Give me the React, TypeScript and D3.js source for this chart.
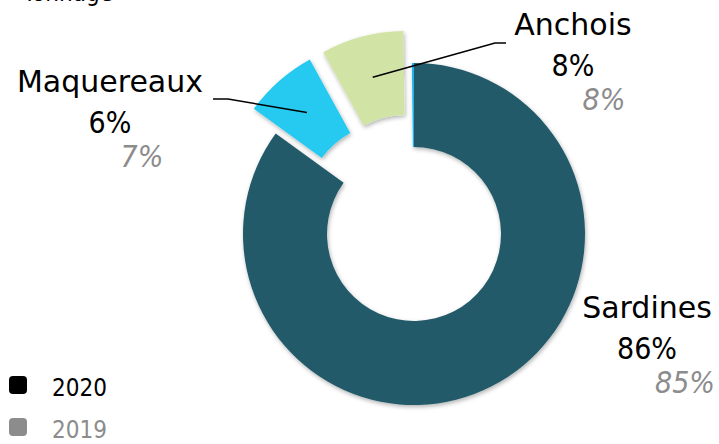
import * as d3 from "d3";

// clockwise from 12 o'clock
const categories = ["Sardines", "Maquereaux", "Anchois", "Autres"];
const shares = [85.0, 7.0, 7.8, 0.2]; // slice sizes
const pct2020 = [86, 6, 8];
const pct2019 = [85, 7, 8];
const legendYears = ["2020", "2019"];

const W = 719;
const H = 444;
const cx = 414;
const cy = 234;
const outerR = 171;
const innerR = 87;

const colors: Record<string, string> = {
  Sardines: "#215a69",
  Maquereaux: "#27c9ef",
  Anchois: "#d2e3a6",
  Autres: "#1fb4ea",
};
const explode: Record<string, number> = { Maquereaux: 33, Anchois: 33 };

// label layout (centre x, baseline of name line) and leader line start
const labelPos: Record<string, { x: number; y: number; dx2019: number; line?: [number, number][] }> = {
  Sardines: { x: 647, y: 318, dx2019: 38 },
  Maquereaux: { x: 110, y: 92, dx2019: 32, line: [[213, 99], [228, 99]] },
  Anchois: { x: 573, y: 35, dx2019: 31, line: [[506, 43], [495, 43]] },
};

const nameFont = "'DejaVu Sans', sans-serif";
const numFont = "'DejaVu Sans Condensed', sans-serif";

export default function App() {
  const rows = categories.map((c, i) => ({ name: c, value: shares[i] }));
  const pie = d3
    .pie<{ name: string; value: number }>()
    .value((d) => d.value)
    .sort(null)
    .startAngle(0)
    .endAngle(2 * Math.PI);
  const arc = d3
    .arc<d3.PieArcDatum<{ name: string; value: number }>>()
    .innerRadius(innerR)
    .outerRadius(outerR);
  const arcs = pie(rows);

  const shift = (d: d3.PieArcDatum<{ name: string; value: number }>) => {
    const off = explode[d.data.name] || 0;
    const mid = (d.startAngle + d.endAngle) / 2;
    return [Math.sin(mid) * off, -Math.cos(mid) * off];
  };

  const line = d3.line();

  return (
    <svg
      width={W}
      height={H}
      style={{ position: "absolute", left: 0, top: 0, background: "#fff" }}
    >
      <defs>
        <filter id="sh" x="-20%" y="-20%" width="140%" height="140%">
          <feDropShadow dx="1" dy="2" stdDeviation="2" floodColor="#000" floodOpacity="0.3" />
        </filter>
      </defs>

      {/* title sits partly above the frame, as in the source */}
      <text x={23} y={1} fontFamily="'DejaVu Sans Condensed', sans-serif" fontSize={24} fill="#000">
        Tonnage
      </text>

      <g transform={`translate(${cx},${cy})`} filter="url(#sh)">
        {arcs.map((d) => {
          const [dx, dy] = shift(d);
          return (
            <path
              key={d.data.name}
              d={arc(d) as string}
              transform={`translate(${dx},${dy})`}
              fill={colors[d.data.name]}
            />
          );
        })}
      </g>

      {arcs.map((d, i) => {
        const lp = labelPos[d.data.name];
        if (!lp) return null;
        const [dx, dy] = shift(d);
        const [mx, my] = arc.centroid(d);
        const end: [number, number] = [cx + mx + dx, cy + my + dy];
        return (
          <g key={d.data.name}>
            {lp.line && (
              <path
                d={line([...lp.line, end]) as string}
                fill="none"
                stroke="#000"
                strokeWidth={1.6}
              />
            )}
            <text x={lp.x} y={lp.y} textAnchor="middle" fontFamily={nameFont} fontSize={30} fill="#000">
              {d.data.name}
            </text>
            <text x={lp.x} y={lp.y + 41} textAnchor="middle" fontFamily={numFont} fontSize={30} fill="#000">
              {pct2020[i]}%
            </text>
            <text
              x={lp.x + lp.dx2019}
              y={lp.y + 75}
              textAnchor="middle"
              fontFamily={numFont}
              fontSize={30}
              fontStyle="italic"
              fill="#8c8c8c"
            >
              {pct2019[i]}%
            </text>
          </g>
        );
      })}

      {legendYears.map((yr, i) => (
        <g key={yr} transform={`translate(0,${i * 42})`}>
          <rect x={9} y={376} width={18} height={18} rx={4} fill={i === 0 ? "#000" : "#8c8c8c"} />
          <text
            x={52}
            y={396}
            fontFamily="'DejaVu Sans Condensed', sans-serif"
            fontSize={24}
            fill={i === 0 ? "#000" : "#8c8c8c"}
          >
            {yr}
          </text>
        </g>
      ))}
    </svg>
  );
}
